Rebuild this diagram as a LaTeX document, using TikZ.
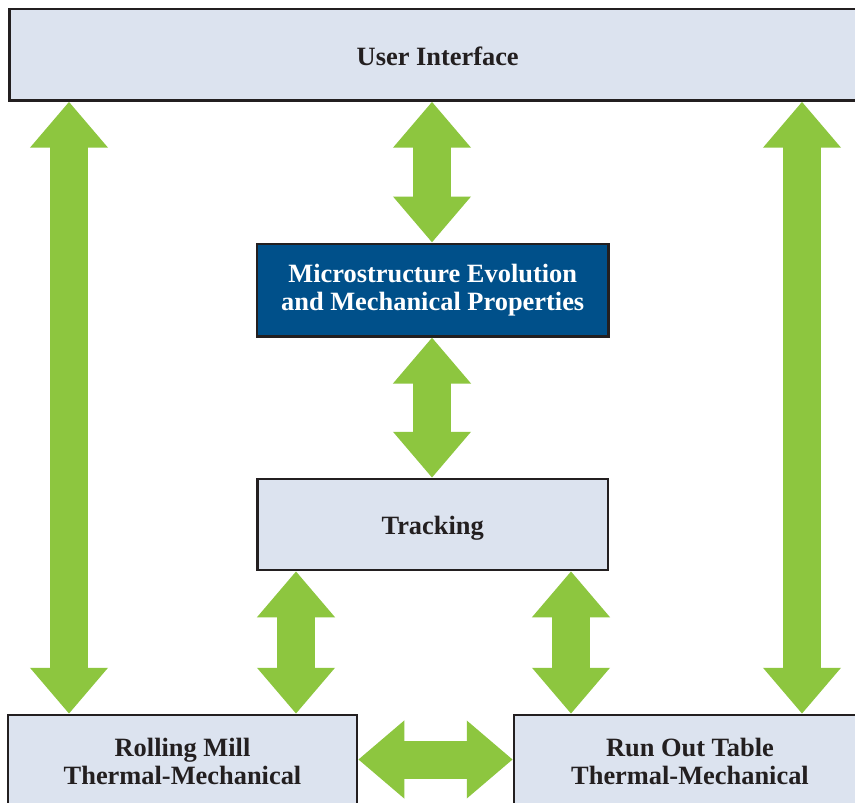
\documentclass[tikz,border=0pt]{standalone}
\usepackage{fontspec}
\setmainfont{Liberation Serif}
\usetikzlibrary{arrows.meta}
\definecolor{arrowgreen}{HTML}{8DC63F}
\definecolor{boxfill}{HTML}{DCE3EF}
\definecolor{darkblue}{HTML}{00508A}
\definecolor{boxline}{HTML}{231F20}
\tikzset{
  box/.style={draw=boxline, line width=2.5pt, fill=boxfill, inner sep=0pt,
    align=center, text=boxline, font=\fontsize{26.4}{27.5}\selectfont\bfseries},
  oneline/.style={text height=20.6pt, text depth=0pt},
  darkbox/.style={box, fill=darkblue, text=white},
  fat/.style={draw=arrowgreen, line width=38pt,
    {Triangle[length=46pt,width=75pt]}-{Triangle[length=46pt,width=75pt]}}
}
\begin{document}
\begin{tikzpicture}[x=1pt,y=-1pt]
\useasboundingbox (0,0) rectangle (855,803);
\clip (0,0) rectangle (855,803);
\fill[white] (0,0) rectangle (855,803);
\node[box, oneline, minimum width=856.5pt, minimum height=91.5pt] (ui) at (437.7,54.7) {User Interface};
\node[darkbox, minimum width=351.5pt, minimum height=92.5pt] (micro) at (432.7,290) {Microstructure Evolution\\and Mechanical Properties};
\node[box, oneline, minimum width=350.5pt, minimum height=91pt] (track) at (432.7,524.5) {Tracking};
\node[box, minimum width=349pt, minimum height=93pt] (rm) at (182.5,761.5) {Rolling Mill\\Thermal-Mechanical};
\node[box, minimum width=352pt, minimum height=93pt] (rot) at (690,761.5) {Run Out Table\\Thermal-Mechanical};
\coordinate (cL) at (69,0);
\coordinate (cR) at (802,0);
\coordinate (cM) at (432,0);
\coordinate (cT1) at (296,0);
\coordinate (cT2) at (571,0);
\coordinate (rowH) at (0,759.5);
\draw[fat] (cL |- ui.south) -- (cL |- rm.north);
\draw[fat] (cR |- ui.south) -- (cR |- rot.north);
\draw[fat] (cM |- ui.south) -- (cM |- micro.north);
\draw[fat] (cM |- micro.south) -- (cM |- track.north);
\draw[fat] (cT1 |- track.south) -- (cT1 |- rm.north);
\draw[fat] (cT2 |- track.south) -- (cT2 |- rot.north);
\draw[fat] (rm.east |- rowH) -- (rot.west |- rowH);
\end{tikzpicture}
\end{document}
